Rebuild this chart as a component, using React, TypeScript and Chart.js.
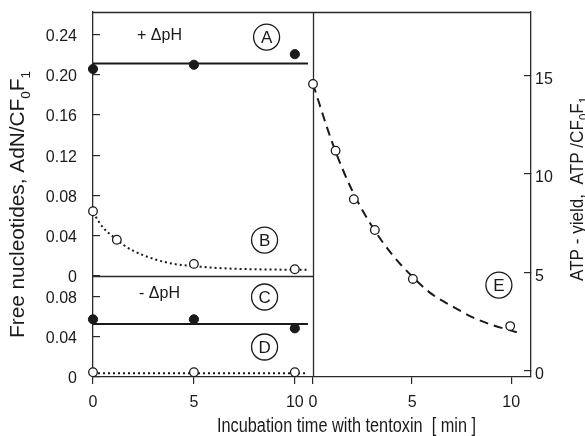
import React, { useEffect, useRef } from "react";
import { Chart, registerables } from "chart.js";

Chart.register(...registerables);

// ---------- data ----------
// Panel A (+ΔpH, filled circles) – left time axis, upper left axis
const timeA = [0, 5, 10];
const valuesA = [0.2056, 0.2098, 0.2203];
const fitTimeA = [0, 10.65];
const fitValuesA = [0.211, 0.211];

// Panel B (+ΔpH, open circles)
const timeB = [0, 1.18, 5, 10];
const valuesB = [0.0643, 0.036, 0.012, 0.0067];
const fitTimeB = [0, 0.5, 1, 1.5, 2, 3, 4, 5, 6, 7, 8, 9, 10, 10.6];
const fitValuesB = [0.063, 0.048, 0.039, 0.031, 0.025, 0.017, 0.012, 0.0098, 0.0082, 0.0072, 0.0067, 0.0064, 0.0062, 0.0061];

// Panel C (-ΔpH, filled circles) – lower left axis
const timeC = [0, 5, 10];
const valuesC = [0.0571, 0.0571, 0.0482];
const fitTimeC = [0, 10.65];
const fitValuesC = [0.0525, 0.0525];

// Panel D (-ΔpH, open circles)
const timeD = [0, 5, 10];
const valuesD = [0.0047, 0.0047, 0.0047];
const fitTimeD = [0, 10.65];
const fitValuesD = [0.0037, 0.0037];

// Panel E (ATP yield, open circles) – right time axis, right axis
const timeE = [0, 1.14, 2.06, 3.12, 5.04, 9.95];
const valuesE = [14.55, 11.17, 8.71, 7.15, 4.67, 2.28];
const fitTimeE = [0, 1, 2, 3, 4, 5, 6, 7, 8, 9, 10, 10.5];
const fitValuesE = [14.55, 11.5, 9.1, 7.3, 5.9, 4.8, 3.9, 3.3, 2.75, 2.35, 2.05, 1.9];

// tick values / labels
const topTickValues = [0, 0.02, 0.04, 0.06, 0.08, 0.1, 0.12, 0.14, 0.16, 0.18, 0.2, 0.22, 0.24];
const topTickLabels = ["0", "", "0.04", "", "0.08", "", "0.12", "", "0.16", "", "0.20", "", "0.24"];
const botTickValues = [0, 0.02, 0.04, 0.06, 0.08];
const botTickLabels = ["0", "", "0.04", "", "0.08"];
const rightTickValues = [0, 5, 10, 15];
const rightTickLabels = ["0", "5", "10", "15"];
const timeTickValues = [0, 5, 10];
const timeTickLabels = ["0", "5", "10"];

const xTitle = "Incubation time with tentoxin  [ min ]";
const leftTitle = ["Free nucleotides, AdN/CF", "0", "F", "1"];
const rightTitle = ["ATP - yield,  ATP /CF", "0", "F", "1"];
const panelLetters = ["A", "B", "C", "D", "E"];

// ---------- styling ----------
const FONT = '"Liberation Sans", Arial, Helvetica, sans-serif';
const INK = "#1a1a1a";
const FRAME = "#2a2a2a";

const pts = (xs: number[], ys: number[]) => xs.map((x, i) => ({ x, y: ys[i] }));

function drawRich(
  ctx: CanvasRenderingContext2D,
  parts: string[],
  size: number,
  x: number,
  y: number,
  rotation: number,
  targetWidth: number
) {
  const subSize = Math.round(size * 0.65);
  const items = parts.map((t, i) => {
    const isSub = i % 2 === 1;
    const s = isSub ? subSize : size;
    ctx.font = `${s}px ${FONT}`;
    return { t, s, dy: isSub ? size * 0.28 : 0, w: ctx.measureText(t).width };
  });
  const W = items.reduce((a, b) => a + b.w, 0);
  ctx.save();
  ctx.translate(x, y);
  ctx.rotate(rotation);
  ctx.scale(targetWidth / W, 1);
  ctx.textAlign = "left";
  ctx.textBaseline = "alphabetic";
  ctx.fillStyle = INK;
  let cx = -W / 2;
  for (const it of items) {
    ctx.font = `${it.s}px ${FONT}`;
    ctx.fillText(it.t, cx, it.dy);
    cx += it.w;
  }
  ctx.restore();
}

const framePlugin = {
  id: "framePlugin",
  beforeDatasetsDraw(chart: any) {
    const { ctx, chartArea, scales } = chart;
    ctx.save();
    ctx.strokeStyle = FRAME;
    ctx.lineWidth = 1.3;
    ctx.beginPath();
    // top frame line
    ctx.moveTo(chartArea.left, chartArea.top + 0.5);
    ctx.lineTo(chartArea.right, chartArea.top + 0.5);
    // divider between the two time axes
    const xd = Math.round(scales.xL.right) + 0.5;
    ctx.moveTo(xd, chartArea.top);
    ctx.lineTo(xd, chartArea.bottom);
    // separation between upper and lower left panels
    const yd = Math.round(scales.yT.bottom) + 0.5;
    ctx.moveTo(chartArea.left, yd);
    ctx.lineTo(xd, yd);
    ctx.stroke();
    ctx.restore();
  },
  afterDatasetsDraw(chart: any) {
    const { ctx, scales } = chart;
    const { xL, xR, yT, yB, yR } = scales;
    ctx.save();
    ctx.fillStyle = INK;
    ctx.strokeStyle = INK;
    // ΔpH labels
    ctx.font = `16px ${FONT}`;
    ctx.textAlign = "left";
    ctx.textBaseline = "alphabetic";
    ctx.fillText("+ \u0394pH", xL.getPixelForValue(2.18), yT.getPixelForValue(0.2344));
    ctx.fillText("- \u0394pH", xL.getPixelForValue(2.28), yB.getPixelForValue(0.078));
    // circled panel letters
    const spots = [
      [xL, 8.6, yT, 0.2373],
      [xL, 8.5, yT, 0.0357],
      [xL, 8.5, yB, 0.0792],
      [xL, 8.5, yB, 0.0297],
      [xR, 9.38, yR, 4.36],
    ];
    ctx.lineWidth = 1.3;
    ctx.font = `17px ${FONT}`;
    ctx.textAlign = "center";
    ctx.textBaseline = "middle";
    spots.forEach((s: any, i) => {
      const cx = s[0].getPixelForValue(s[1]);
      const cy = s[2].getPixelForValue(s[3]);
      ctx.beginPath();
      ctx.arc(cx, cy, 13, 0, Math.PI * 2);
      ctx.stroke();
      ctx.fillText(panelLetters[i], cx, cy + 1);
    });
    ctx.restore();

    // axis titles
    drawRich(ctx, leftTitle, 20, 24, 204.5, -Math.PI / 2, 267);
    drawRich(ctx, rightTitle, 18, 583, 189, -Math.PI / 2, 184);
    drawRich(ctx, [xTitle], 20, 346.5, 432, 0, 259);
  },
};

function noPad(s: any) {
  s.paddingTop = 0;
  s.paddingBottom = 0;
  s.paddingLeft = 0;
  s.paddingRight = 0;
}

function yAxis(
  position: string,
  stackWeight: number,
  min: number,
  max: number,
  values: number[],
  labels: string[],
  width: number,
  padding: number,
  labelOffset: number,
  stack?: string
) {
  return {
    type: "linear",
    position,
    stack,
    stackWeight,
    min,
    max,
    afterBuildTicks: (s: any) => {
      s.ticks = values.map((v) => ({ value: v }));
    },
    afterFit: (s: any) => {
      s.width = width;
      noPad(s);
    },
    ticks: {
      callback: (_v: any, i: number) => labels[i],
      font: { family: FONT, size: 16 },
      color: INK,
      padding,
      labelOffset,
    },
    grid: { drawOnChartArea: false, tickLength: -7, color: FRAME, lineWidth: 1.2 },
    border: { color: FRAME, width: 1.3 },
  };
}

function xAxis(stackWeight: number, max: number) {
  return {
    type: "linear",
    position: "bottom",
    stack: "time",
    stackWeight,
    min: 0,
    max,
    afterBuildTicks: (s: any) => {
      s.ticks = timeTickValues.map((v) => ({ value: v }));
    },
    afterFit: (s: any) => {
      s.height = 59;
      noPad(s);
    },
    ticks: {
      callback: (_v: any, i: number) => timeTickLabels[i],
      font: { family: FONT, size: 16 },
      color: INK,
      padding: 9,
      maxRotation: 0,
      autoSkip: false,
    },
    grid: { drawOnChartArea: false, tickLength: 7, color: FRAME, lineWidth: 1.2 },
    border: { color: FRAME, width: 1.3 },
  };
}

export default function App() {
  const ref = useRef<HTMLCanvasElement | null>(null);

  useEffect(() => {
    if (!ref.current) return;
    const filled = { pointRadius: 4.6, pointBackgroundColor: INK, pointBorderColor: INK, pointBorderWidth: 1, showLine: false, clip: false };
    const open = { pointRadius: 4.3, pointBackgroundColor: "#ffffff", pointBorderColor: INK, pointBorderWidth: 1.3, showLine: false, clip: false };
    const line = { pointRadius: 0, showLine: true, borderColor: INK, borderWidth: 2, fill: false, cubicInterpolationMode: "monotone" };

    const chart = new Chart(ref.current, {
      type: "scatter",
      data: {
        datasets: [
          { label: "A", data: pts(timeA, valuesA), xAxisID: "xL", yAxisID: "yT", ...filled },
          { label: "B", data: pts(timeB, valuesB), xAxisID: "xL", yAxisID: "yT", ...open },
          { label: "C", data: pts(timeC, valuesC), xAxisID: "xL", yAxisID: "yB", ...filled },
          { label: "D", data: pts(timeD, valuesD), xAxisID: "xL", yAxisID: "yB", ...open },
          { label: "E", data: pts(timeE, valuesE), xAxisID: "xR", yAxisID: "yR", ...open },
          { label: "A fit", data: pts(fitTimeA, fitValuesA), xAxisID: "xL", yAxisID: "yT", ...line },
          { label: "B fit", data: pts(fitTimeB, fitValuesB), xAxisID: "xL", yAxisID: "yT", ...line, borderDash: [2, 3] },
          { label: "C fit", data: pts(fitTimeC, fitValuesC), xAxisID: "xL", yAxisID: "yB", ...line },
          { label: "D fit", data: pts(fitTimeD, fitValuesD), xAxisID: "xL", yAxisID: "yB", ...line, borderDash: [2, 3] },
          { label: "E fit", data: pts(fitTimeE, fitValuesE), xAxisID: "xR", yAxisID: "yR", ...line, borderDash: [9, 6] },
        ] as any,
      },
      options: {
        animation: false,
        responsive: false,
        events: [],
        layout: { padding: { top: 12, left: 0, right: 0, bottom: 0 } },
        plugins: { legend: { display: false }, tooltip: { enabled: false }, title: { display: false } },
        scales: {
          yB: yAxis("left", 101, 0, 0.1, botTickValues, botTickLabels, 93, 23, 2, "left"),
          yT: yAxis("left", 264, 0, 0.2622, topTickValues, topTickLabels, 93, 23, 2, "left"),
          yR: yAxis("right", 1, -0.3, 18.2, rightTickValues, rightTickLabels, 54, 11, 4),
          xL: xAxis(220, 10.9),
          xR: xAxis(218, 11.0),
        } as any,
      },
      plugins: [framePlugin],
    } as any);
    return () => chart.destroy();
  }, []);

  return (
    <div style={{ position: "absolute", left: 0, top: 0, width: 585, height: 436, background: "#fff" }}>
      <canvas ref={ref} width={585} height={436} style={{ display: "block", width: 585, height: 436 }} />
    </div>
  );
}
